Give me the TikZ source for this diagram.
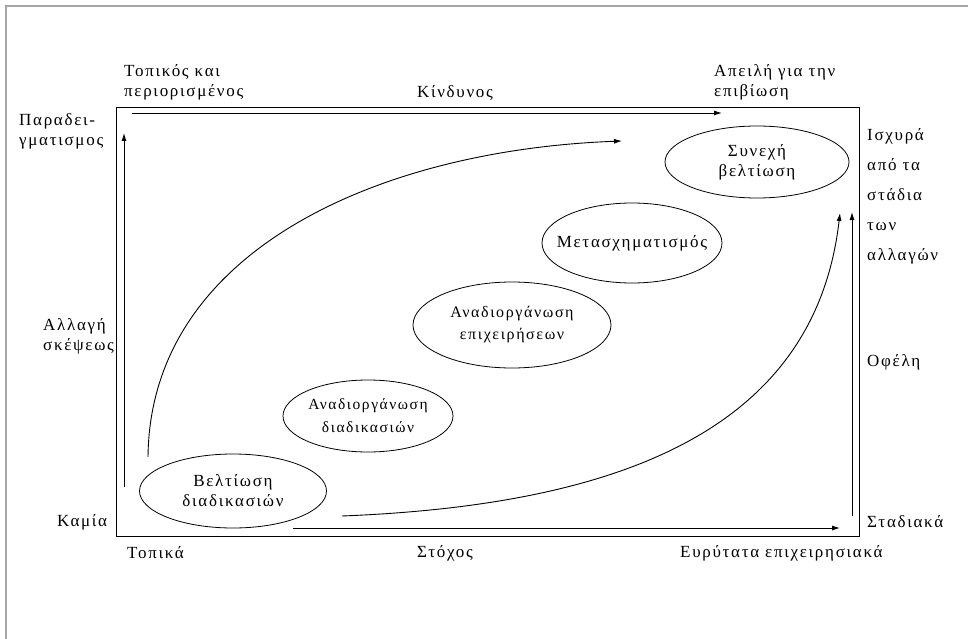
\documentclass[tikz,border=0pt]{standalone}
\usepackage{fontspec}
\setmainfont{Liberation Serif}[LetterSpace=10]
\usetikzlibrary{arrows.meta,shapes.geometric}
\begin{document}
\begin{tikzpicture}[x=1pt,y=-1pt,
  every node/.style={inner sep=0pt,font=\fontsize{17}{20}\selectfont},
  stage/.style={draw,ellipse,line width=0.8pt,align=center,inner xsep=-40pt,inner ysep=-5pt},
  lbl/.style={align=left,anchor=west},
  col/.style={align=left,anchor=west,font=\fontsize{17}{30}\selectfont},
  axis/.style={line width=0.9pt,-{Latex[length=8pt,width=5pt]}},
  flow/.style={line width=0.9pt,-{Latex[length=8pt,width=5pt]}}]
\useasboundingbox (0,0) rectangle (968,639);
\fill[white] (0,0) rectangle (968,639);
% outer frame
\draw[gray!70,line width=1.6pt] (6,639) -- (6,6) -- (968,6);
% inner rectangle
\draw[line width=0.9pt] (116,107) rectangle (859,536);
% axis arrows
\coordinate (ts) at (132,113); \coordinate (te) at (722,113);
\coordinate (ls) at (124,487); \coordinate (le) at (124,133);
\coordinate (bs) at (293,528); \coordinate (be) at (840,528);
\coordinate (rs) at (852,516); \coordinate (re) at (852,212);
\draw[axis] (ts) -- (te);
\draw[axis] (ls) -- (le);
\draw[axis] (bs) -- (be);
\draw[axis] (rs) -- (re);
% stages
\node[stage,minimum width=187pt,minimum height=74pt] (s1) at (233,491) {Βελτίωση\\διαδικασιών};
\node[stage,minimum width=170pt,minimum height=72pt,font=\fontsize{15.5}{23}\selectfont] (s2) at (368,416) {Αναδιοργάνωση\\διαδικασιών};
\node[stage,minimum width=198pt,minimum height=86pt,font=\fontsize{16}{22}\selectfont] (s3) at (512,325) {Αναδιοργάνωση\\επιχειρήσεων};
\node[stage,minimum width=180pt,minimum height=80pt] (s4) at (632,243) {Μετασχηματισμός};
\node[stage,minimum width=184pt,minimum height=72pt] (s5) at (757,162) {Συνεχή\\βελτίωση};
% curved flows
\coordinate (c1s) at (148,457); \coordinate (c1e) at (622,141);
\coordinate (c2s) at (342,516); \coordinate (c2e) at (840,213);
\draw[flow] (c1s) .. controls (150,250) and (380,150) .. (c1e);
\draw[flow] (c2s) .. controls (620,505) and (815,430) .. (c2e);
% labels
\node[lbl] (l1) at (124,82) {Τοπικός και\\περιορισμένος};
\node (l2) at (455,93) {Κίνδυνος};
\node[lbl] (l3) at (714,82) {Απειλή για την\\επιβίωση};
\node[lbl] (l4) at (19,131) {Παραδει-\\γματισμος};
\node[lbl] (l5) at (43,336) {Αλλαγή\\σκέψεως};
\node[lbl] (l6) at (57,522) {Καμία};
\node[lbl] (l7) at (127,553) {Τοπικά};
\node (l8) at (445,553) {Στόχος};
\node[lbl] (l9) at (680,553) {Ευρύτατα επιχειρησιακά};
\node[lbl] (l10) at (867,522) {Σταδιακά};
\node[lbl] (l11) at (867,362) {Οφέλη};
\node[col] (l12) at (867,196) {Ισχυρά\\από τα\\στάδια\\των\\αλλαγών};
\end{tikzpicture}
\end{document}
